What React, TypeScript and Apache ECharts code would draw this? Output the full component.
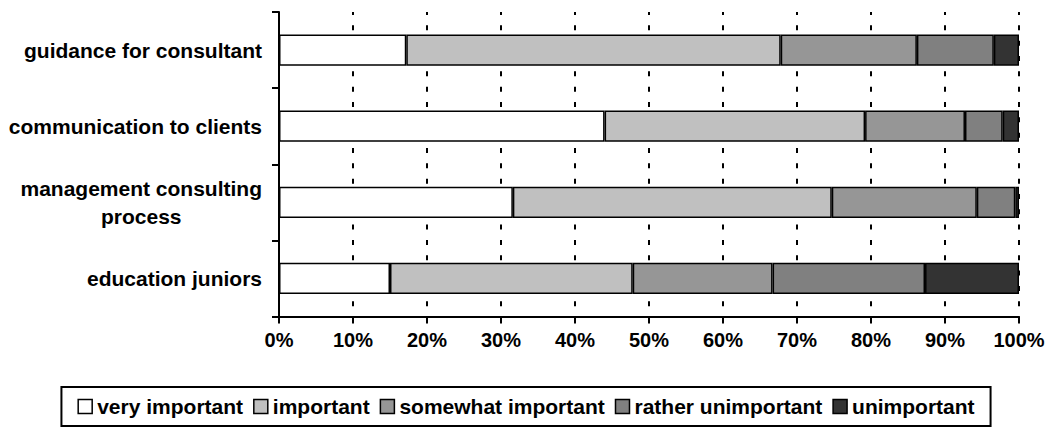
import React, { useEffect, useRef } from "react";
import * as echarts from "echarts";

const categories = [
  "guidance for consultant",
  "communication to clients",
  "management consulting\nprocess",
  "education juniors",
];
const seriesNames = [
  "very important",
  "important",
  "somewhat important",
  "rather unimportant",
  "unimportant",
];
const veryImportant = [17.2, 44.0, 31.6, 15.0];
const important = [50.6, 35.2, 43.1, 32.8];
const somewhatImportant = [18.4, 13.5, 19.6, 18.9];
const ratherUnimportant = [10.4, 5.1, 5.2, 20.6];
const unimportant = [3.4, 2.2, 0.5, 12.7];
const colors = ["#ffffff", "#c0c0c0", "#969696", "#808080", "#333333"];

const FONT = "'Liberation Sans', Arial, sans-serif";

export default function App() {
  const ref = useRef<HTMLDivElement>(null);
  useEffect(() => {
    if (!ref.current) return;
    const chart = echarts.init(ref.current, null, { renderer: "svg" });
    const values = [veryImportant, important, somewhatImportant, ratherUnimportant, unimportant];
    chart.setOption({
      animation: false,
      backgroundColor: "#ffffff",
      textStyle: { fontFamily: FONT },
      grid: { left: 279, right: 33, top: 12, bottom: 111.5, containLabel: false },
      legend: {
        data: seriesNames,
        left: "center",
        top: 387,
        padding: [9, 16],
        borderColor: "#000",
        borderWidth: 2,
        itemWidth: 14,
        itemHeight: 14,
        itemGap: 10,
        icon: "rect",
        itemStyle: { borderColor: "#000", borderWidth: 1.5 },
        textStyle: { fontFamily: FONT, fontSize: 21, fontWeight: "bold", color: "#000" },
      },
      xAxis: {
        type: "value",
        min: 0,
        max: 100,
        interval: 10,
        axisLine: { show: true, lineStyle: { color: "#000", width: 2 } },
        axisTick: { show: true, length: 7, lineStyle: { color: "#000", width: 2 } },
        axisLabel: {
          formatter: "{value}%",
          margin: 13,
          fontFamily: FONT,
          fontSize: 20,
          fontWeight: "bold",
          color: "#000",
        },
        splitLine: {
          show: true,
          lineStyle: { color: "#000", width: 2, type: [5, 10.33], dashOffset: 1.6 },
        },
      },
      yAxis: {
        type: "category",
        inverse: true,
        data: categories,
        axisLine: { show: true, lineStyle: { color: "#000", width: 2 } },
        axisTick: { show: true, length: 7, lineStyle: { color: "#000", width: 2 } },
        axisLabel: {
          margin: 17,
          color: "#000",
          fontFamily: FONT,
          fontSize: 21,
          fontWeight: "bold",
          lineHeight: 28,
          formatter: (v: string) =>
            v
              .split("\n")
              .map((s) => "{c|" + s + "}")
              .join("\n"),
          rich: {
            c: {
              align: "center",
              fontFamily: FONT,
              fontSize: 21,
              fontWeight: "bold",
              color: "#000",
              lineHeight: 28,
            },
          },
        },
      },
      series: seriesNames.map((name, i) => ({
        name,
        type: "bar",
        stack: "total",
        barWidth: "41%",
        data: values[i],
        itemStyle: { color: colors[i], borderColor: "#000", borderWidth: 1.5 },
      })),
    });
    return () => chart.dispose();
  }, []);
  return (
    <div
      ref={ref}
      style={{ position: "fixed", left: 0, top: 0, width: 1052, height: 428 }}
    />
  );
}
